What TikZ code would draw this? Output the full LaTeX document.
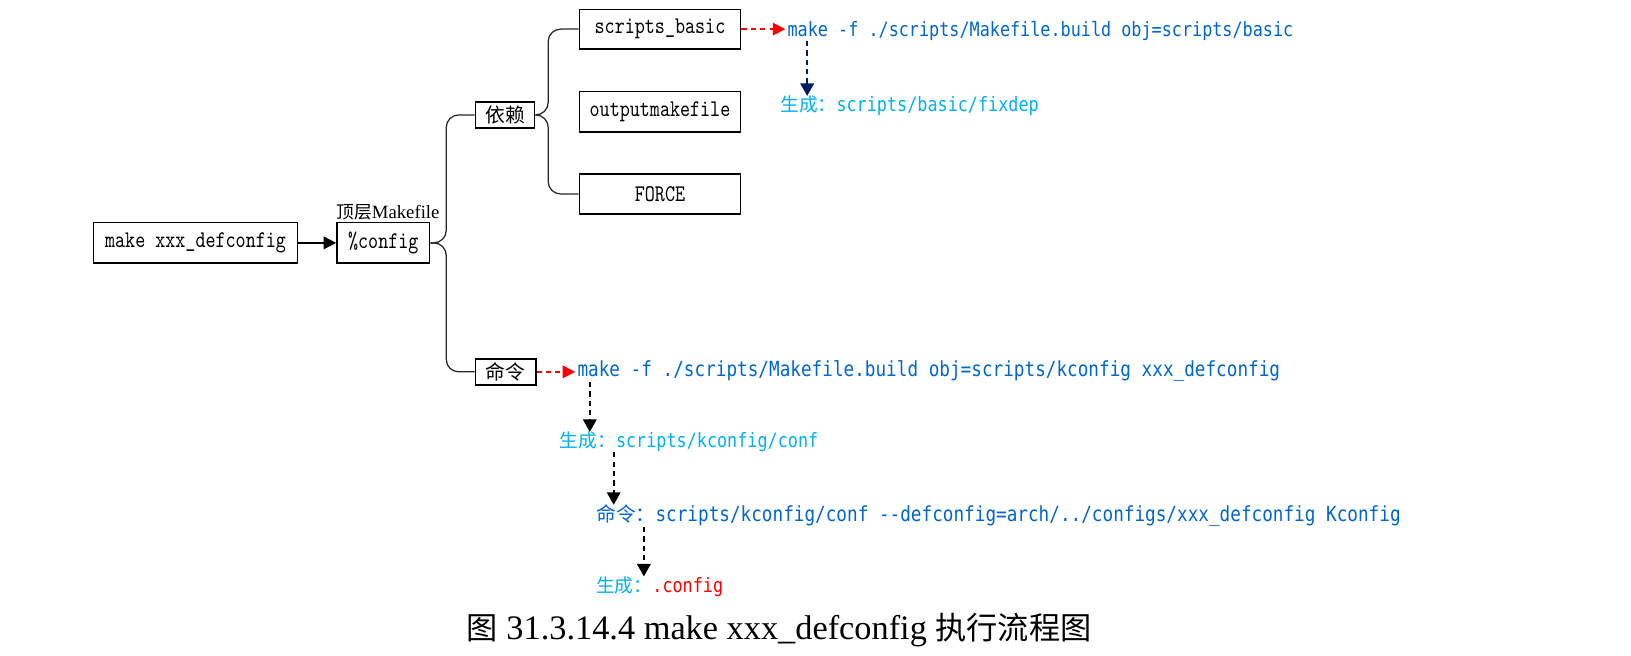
\documentclass[tikz,border=0pt]{standalone}
\usepackage{fontspec}
\usetikzlibrary{arrows.meta,calc}
\newfontfamily\cjk{Noto Sans CJK SC}
\newfontfamily\boxmono[FakeStretch=0.8]{lmmono10-regular.otf}
\newfontfamily\codemono[FakeStretch=0.85]{DejaVu Sans Mono}
\newfontfamily\serifL{Liberation Serif}
\definecolor{codeblue}{RGB}{0,102,204}
\definecolor{genblue}{RGB}{0,176,240}
\definecolor{navyc}{RGB}{0,32,96}
\newcommand\zh[2]{{\cjk\fontsize{#1}{#1}\selectfont #2}}
\tikzset{
  box/.style={draw=black, line width=1.6pt, inner sep=0pt, align=center,
    font=\boxmono\fontsize{23}{23}\selectfont},
  link/.style={draw=black!85, line width=1.2pt, rounded corners=12pt},
  codetxt/.style={inner xsep=2pt, inner ysep=0pt, anchor=west, text=codeblue,
    font=\codemono\fontsize{19}{19}\selectfont},
  codebig/.style={codetxt, font=\codemono\fontsize{20}{20}\selectfont},
  gentxt/.style={codetxt, text=genblue},
  redarrow/.style={draw=red, line width=1.6pt, dash pattern=on 5pt off 4pt,
    -{Triangle[length=12pt,width=12pt]}},
  navyarrow/.style={draw=navyc, line width=1.6pt, dash pattern=on 5pt off 4pt,
    -{Triangle[length=12pt,width=13pt]}},
  blkarrow/.style={draw=black, line width=1.6pt, dash pattern=on 5pt off 4pt,
    -{Triangle[length=12pt,width=13pt]}},
}
\begin{document}
\begin{tikzpicture}[x=1pt,y=-1pt]
\useasboundingbox (0,0) rectangle (1568,630.6);
% boxes
\node[box, minimum width=196pt, minimum height=39pt] (A) at (188,233.5) {make xxx\_defconfig};
\node[box, minimum width=89pt, minimum height=39pt] (B) at (368.5,233.5) {\%config};
\node[inner sep=0pt, font=\serifL\fontsize{18}{18}\selectfont] (lbl) at (373,204) {\zh{17}{顶层}Makefile};
\node[box, minimum width=57pt, minimum height=25pt] (C) at (485.5,110.5) {\zh{19}{依赖}};
\node[box, minimum width=58pt, minimum height=25pt] (D) at (486,357.5) {\zh{19}{命令}};
\node[box, minimum width=155pt, minimum height=38pt] (E) at (634.5,28) {scripts\_basic};
\node[box, minimum width=155pt, minimum height=39pt] (F) at (634.5,107.5) {outputmakefile};
\node[box, minimum width=155pt, minimum height=39pt] (G) at (634.5,186.5) {FORCE};
% texts
\node[codetxt] (T1) at (755,30) {make -f ./scripts/Makefile.build obj=scripts/basic};
\node[gentxt] (T2) at (748,102) {\zh{18}{生成：}scripts/basic/fixdep};
\node[codebig] (T3) at (553,357) {make -f ./scripts/Makefile.build obj=scripts/kconfig xxx\_defconfig};
\node[gentxt] (T4) at (536,425) {\zh{18}{生成：}scripts/kconfig/conf};
\node[codebig] (T5) at (571,496) {\zh{19}{命令：}scripts/kconfig/conf -{}-defconfig=arch/../configs/xxx\_defconfig Kconfig};
\node[gentxt] (T6) at (571,564) {\zh{18}{生成：}\textcolor{red}{.config}};
\node[inner sep=0pt, font=\serifL\fontsize{33}{33}\selectfont] (cap) at (749,606)
  {\zh{30}{图} 31.3.14.4 make xxx\_defconfig \zh{30}{执行流程图}};
% connectors
\draw[line width=1.6pt, -{Triangle[length=12pt,width=12pt]}] (A) -- (B);
\draw[link] (B.east) -- (429,233.5) -- (429,110.5) -- (C.west);
\draw[link] (B.east) -- (429,233.5) -- (429,357.5) -- (D.west);
\draw[link] (C.east) -- (527,110.5) -- (527,28) -- (E.west);
\draw[link] (C.east) -- (527,110.5) -- (527,186.5) -- (G.west);
\draw[redarrow] (E.east) -- (E.east -| T1.west);
\draw[redarrow] (D.east) -- (D.east -| T3.west);
\coordinate (n1) at ([xshift=21pt]T1.south west);
\draw[navyarrow] (n1) -- (n1 |- T2.north);
\coordinate (k1) at ([xshift=14pt]T3.south west);
\draw[blkarrow] (k1) -- (k1 |- T4.north);
\coordinate (k2) at ([xshift=54pt]T4.south west);
\draw[blkarrow] (k2) -- (k2 |- T5.north);
\coordinate (k3) at ([xshift=48pt]T5.south west);
\draw[blkarrow] (k3) -- (k3 |- T6.north);
\end{tikzpicture}
\end{document}
